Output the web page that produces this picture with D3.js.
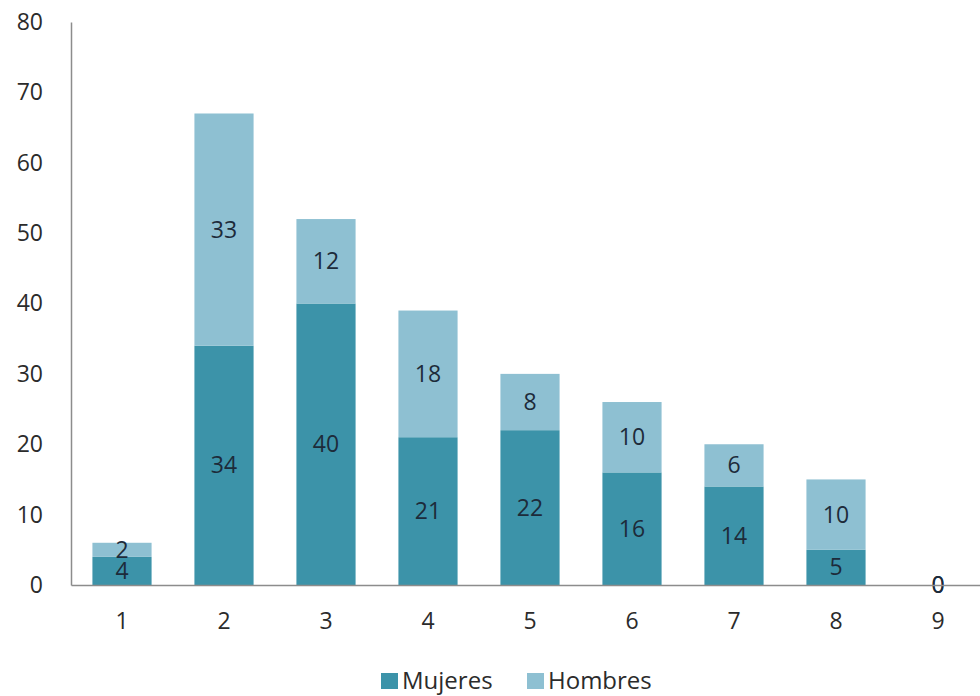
<!DOCTYPE html>
<html>
<head>
<meta charset="utf-8">
<script src="https://cdn.jsdelivr.net/npm/d3@7"></script>
<style>
  html, body { margin: 0; padding: 0; background: #fff; }
  svg { display: block; }
  text { font-family: "Open Sans", "Noto Sans", sans-serif; }
</style>
</head>
<body>
<svg id="chart" width="980" height="696"></svg>
<script>
const categories = ["1", "2", "3", "4", "5", "6", "7", "8", "9"];
const mujeres = [4, 34, 40, 21, 22, 16, 14, 5, 0];
const hombres = [2, 33, 12, 18, 8, 10, 6, 10, 0];
const seriesNames = ["Mujeres", "Hombres"];
const seriesColors = ["#3c93a9", "#8ec0d2"];
const yTicks = [0, 10, 20, 30, 40, 50, 60, 70, 80];

const svg = d3.select("#chart");
const x0 = 71, x1 = 989, yBase = 585, yTop = 22;

const x = d3.scaleBand().domain(categories).range([x0, x1])
  .paddingInner(0.42).paddingOuter(0.21);
const y = d3.scaleLinear().domain([0, 80]).range([yBase, yTop]);

const rows = categories.map((c, i) => ({ cat: c, Mujeres: mujeres[i], Hombres: hombres[i] }));
const stack = d3.stack().keys(seriesNames)(rows);

const g = svg.append("g");
stack.forEach((layer, li) => {
  g.append("g").selectAll("rect").data(layer).join("rect")
    .attr("x", d => x(d.data.cat))
    .attr("width", x.bandwidth())
    .attr("y", d => y(d[1]))
    .attr("height", d => y(d[0]) - y(d[1]))
    .attr("fill", seriesColors[li]);
});

// axes
const yAxis = d3.axisLeft(y).tickValues(yTicks).tickSize(0).tickPadding(28);
const yg = svg.append("g").attr("transform", `translate(${x0},0)`).call(yAxis);
yg.select(".domain").attr("stroke", "#8c8c8c").attr("stroke-width", 1.5);
yg.selectAll("text").attr("font-size", 23).attr("fill", "#2b2b2b");

const xAxis = d3.axisBottom(x).tickSize(0).tickPadding(28);
const xg = svg.append("g").attr("transform", `translate(0,${yBase})`).call(xAxis);
xg.select(".domain").attr("stroke", "#8c8c8c").attr("stroke-width", 1.5);
xg.selectAll("text").attr("font-size", 23).attr("fill", "#2b2b2b");

// data labels
stack.forEach((layer, li) => {
  g.append("g").selectAll("text").data(layer).join("text")
    .attr("x", d => x(d.data.cat) + x.bandwidth() / 2)
    .attr("y", d => (y(d[0]) + y(d[1])) / 2)
    .attr("dy", "0.35em")
    .attr("text-anchor", "middle")
    .attr("font-size", 23)
    .attr("fill", "#1d2b3a")
    .text(d => d.data[seriesNames[li]]);
});

// legend
const legend = svg.append("g").attr("transform", "translate(381,673)");
const legendX = [0, 146];
seriesNames.forEach((s, i) => {
  const lg = legend.append("g").attr("transform", `translate(${legendX[i]},0)`);
  lg.append("rect").attr("width", 17).attr("height", 16).attr("fill", seriesColors[i]);
  lg.append("text").attr("x", 21).attr("y", 8).attr("dy", "0.35em")
    .attr("font-size", 24).attr("fill", "#2b2b2b").text(s);
});
</script>
</body>
</html>
